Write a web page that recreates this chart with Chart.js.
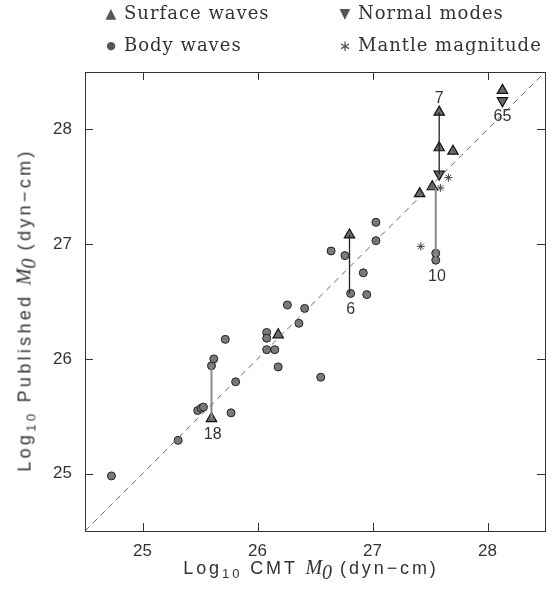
<!DOCTYPE html>
<html>
<head>
<meta charset="utf-8">
<script src="https://cdn.jsdelivr.net/npm/chart.js@4"></script>
<style>
  body { margin: 0; background: #fff; }
  #wrap { position: relative; width: 560px; height: 590px; }
  #chart { position: absolute; left: 0; top: 0; }
  .leg { position: absolute; font-family: 'DejaVu Serif', serif; font-size: 18px; letter-spacing: 1px; color: #333; white-space: nowrap; line-height: 20px; }
  .sym { position: absolute; transform: translate(-50%, -50%); font-family: 'DejaVu Sans', sans-serif; color: #555; line-height: 1; }
  .axt { position: absolute; font-family: 'Liberation Sans', sans-serif; font-size: 18px; color: #333; white-space: nowrap; line-height: 20px; }
  .axt i { font-family: 'Liberation Serif', serif; font-size: 20px; letter-spacing: 0; }
  .axt sub { font-size: 13px; line-height: 0; }
  #ytitle { letter-spacing: 3.3px; transform: translate(-50%, -50%) rotate(-90deg); left: 24px; top: 310px; }
  #xtitle { letter-spacing: 2.9px; transform: translate(-50%, -50%); left: 311px; top: 567px; }
</style>
</head>
<body>
<div id="wrap">
  <canvas id="chart" width="560" height="590"></canvas>
  <span class="sym" style="left:111px;top:13px;font-size:14px">▲</span>
  <div class="leg" style="left:124px;top:3px">Surface waves</div>
  <span class="sym" style="left:345px;top:13px;font-size:14px">▼</span>
  <div class="leg" style="left:358px;top:3px">Normal modes</div>
  <span class="sym" style="left:111px;top:45px;font-size:11px">●</span>
  <div class="leg" style="left:124px;top:35px">Body waves</div>
  <span class="sym" style="left:345px;top:46px;font-size:15px">∗</span>
  <div class="leg" style="left:358px;top:35px">Mantle magnitude</div>
  <div class="axt" id="ytitle">Log<sub>10</sub> Published <i>M</i><sub><i>0</i></sub> (dyn−cm)</div>
  <div class="axt" id="xtitle">Log<sub>10</sub> CMT <i>M</i><sub><i>0</i></sub> (dyn−cm)</div>
</div>
<script>
// axis range and ticks
const AXIS_MIN = 24.5;
const AXIS_MAX = 28.5;
const TICKS = [25, 26, 27, 28];

// body waves (circles)
const BODY_X = [24.73, 25.31, 25.48, 25.51, 25.53, 25.60, 25.62, 25.72, 25.77, 25.81,
                26.08, 26.08, 26.08, 26.15, 26.18, 26.26, 26.36, 26.41, 26.55, 26.64,
                26.76, 26.81, 26.92, 26.95, 27.03, 27.03, 27.55, 27.55];
const BODY_Y = [24.98, 25.29, 25.55, 25.57, 25.58, 25.94, 26.00, 26.17, 25.53, 25.80,
                26.23, 26.18, 26.08, 26.08, 25.93, 26.47, 26.31, 26.44, 25.84, 26.94,
                26.90, 26.57, 26.75, 26.56, 27.19, 27.03, 26.92, 26.86];

// surface waves (triangles)
const SURF_X = [25.60, 26.18, 26.80, 27.41, 27.52, 27.58, 27.58, 27.70, 28.13];
const SURF_Y = [25.48, 26.21, 27.08, 27.44, 27.50, 27.84, 28.15, 27.81, 28.34];

// normal modes (inverted triangles)
const NORM_X = [27.58, 28.13];
const NORM_Y = [27.61, 28.25];

// mantle magnitude (asterisks)
const MANT_X = [27.42, 27.59, 27.66];
const MANT_Y = [26.98, 27.49, 27.58];

// events joined by vertical lines
const EVENT_X    = [25.60, 26.80, 27.58, 27.55];
const EVENT_LOW  = [25.48, 26.57, 27.61, 26.86];
const EVENT_HIGH = [25.94, 27.08, 28.15, 27.49];
const EVENT_GRAY = [true, false, false, true];

// event numbers
const LABEL_TEXT = ['7', '65', '6', '10', '18'];
const LABEL_X    = [27.58, 28.13, 26.81, 27.56, 25.61];
const LABEL_Y    = [28.15, 28.25, 26.57, 26.86, 25.48];
const LABEL_SIDE = ['above', 'below', 'below', 'below', 'below'];

const pts = (xs, ys) => xs.map((x, i) => ({ x, y: ys[i] }));

const datasets = [
  {
    label: '1:1',
    data: [{ x: AXIS_MIN, y: AXIS_MIN }, { x: AXIS_MAX, y: AXIS_MAX }],
    showLine: true,
    borderColor: '#666',
    borderWidth: 1,
    borderDash: [6, 5],
    pointRadius: 0,
  },
  ...EVENT_X.map((x, i) => ({
    label: 'event',
    data: [{ x, y: EVENT_LOW[i] }, { x, y: EVENT_HIGH[i] }],
    showLine: true,
    borderColor: EVENT_GRAY[i] ? '#888' : '#222',
    borderWidth: EVENT_GRAY[i] ? 2 : 1.3,
    pointRadius: 0,
  })),
  {
    label: 'Body waves',
    data: pts(BODY_X, BODY_Y),
    pointStyle: 'circle',
    pointRadius: 4,
    backgroundColor: '#7a7a7a',
    borderColor: '#222',
    borderWidth: 1,
  },
  {
    label: 'Surface waves',
    data: pts(SURF_X, SURF_Y),
    pointStyle: 'triangle',
    pointRadius: 6,
    backgroundColor: '#6a6a6a',
    borderColor: '#111',
    borderWidth: 1.2,
  },
  {
    label: 'Normal modes',
    data: pts(NORM_X, NORM_Y),
    pointStyle: 'triangle',
    rotation: 180,
    pointRadius: 6,
    backgroundColor: '#6a6a6a',
    borderColor: '#111',
    borderWidth: 1.2,
  },
  {
    label: 'Mantle magnitude',
    data: pts(MANT_X, MANT_Y),
    pointStyle: 'star',
    pointRadius: 4,
    backgroundColor: '#444',
    borderColor: '#444',
    borderWidth: 1,
  },
];

const framePlugin = {
  id: 'frame',
  afterDatasetsDraw(chart) {
    const { ctx, chartArea: a, scales: { x, y } } = chart;
    const seg = (x1, y1, x2, y2) => { ctx.beginPath(); ctx.moveTo(x1, y1); ctx.lineTo(x2, y2); ctx.stroke(); };
    ctx.save();
    ctx.strokeStyle = '#333';
    ctx.lineWidth = 1;
    ctx.strokeRect(a.left + 0.5, a.top + 0.5, a.right - a.left, a.bottom - a.top);
    TICKS.forEach(v => {
      const px = Math.round(x.getPixelForValue(v)) + 0.5;
      seg(px, a.bottom, px, a.bottom - 8);
      seg(px, a.top, px, a.top + 8);
      const py = Math.round(y.getPixelForValue(v)) + 0.5;
      seg(a.left, py, a.left + 8, py);
      seg(a.right, py, a.right - 8, py);
    });
    ctx.fillStyle = '#333';
    ctx.font = '16px "Liberation Sans", sans-serif';
    ctx.textAlign = 'center';
    ctx.textBaseline = 'middle';
    LABEL_TEXT.forEach((t, i) => {
      const px = x.getPixelForValue(LABEL_X[i]);
      const py = y.getPixelForValue(LABEL_Y[i]) + (LABEL_SIDE[i] === 'above' ? -14 : 16);
      ctx.fillText(t, px, py);
    });
    ctx.restore();
  },
};

const tickFont = { family: '"Liberation Sans", sans-serif', size: 17 };

new Chart(document.getElementById('chart'), {
  type: 'scatter',
  data: { datasets },
  options: {
    responsive: false,
    animation: false,
    layout: { padding: { top: 72, right: 15, left: 0, bottom: 0 } },
    plugins: { legend: { display: false }, tooltip: { enabled: false } },
    scales: {
      x: {
        min: AXIS_MIN,
        max: AXIS_MAX,
        afterBuildTicks: s => { s.ticks = TICKS.map(value => ({ value })); },
        afterFit: s => { s.height = 59; },
        ticks: { color: '#333', font: tickFont, padding: 10 },
        grid: { display: false, drawTicks: false },
        border: { display: false },
      },
      y: {
        min: AXIS_MIN,
        max: AXIS_MAX,
        afterBuildTicks: s => { s.ticks = TICKS.map(value => ({ value })); },
        afterFit: s => { s.width = 85; },
        ticks: { color: '#333', font: tickFont, padding: 13 },
        grid: { display: false, drawTicks: false },
        border: { display: false },
      },
    },
  },
  plugins: [framePlugin],
});
</script>
</body>
</html>
